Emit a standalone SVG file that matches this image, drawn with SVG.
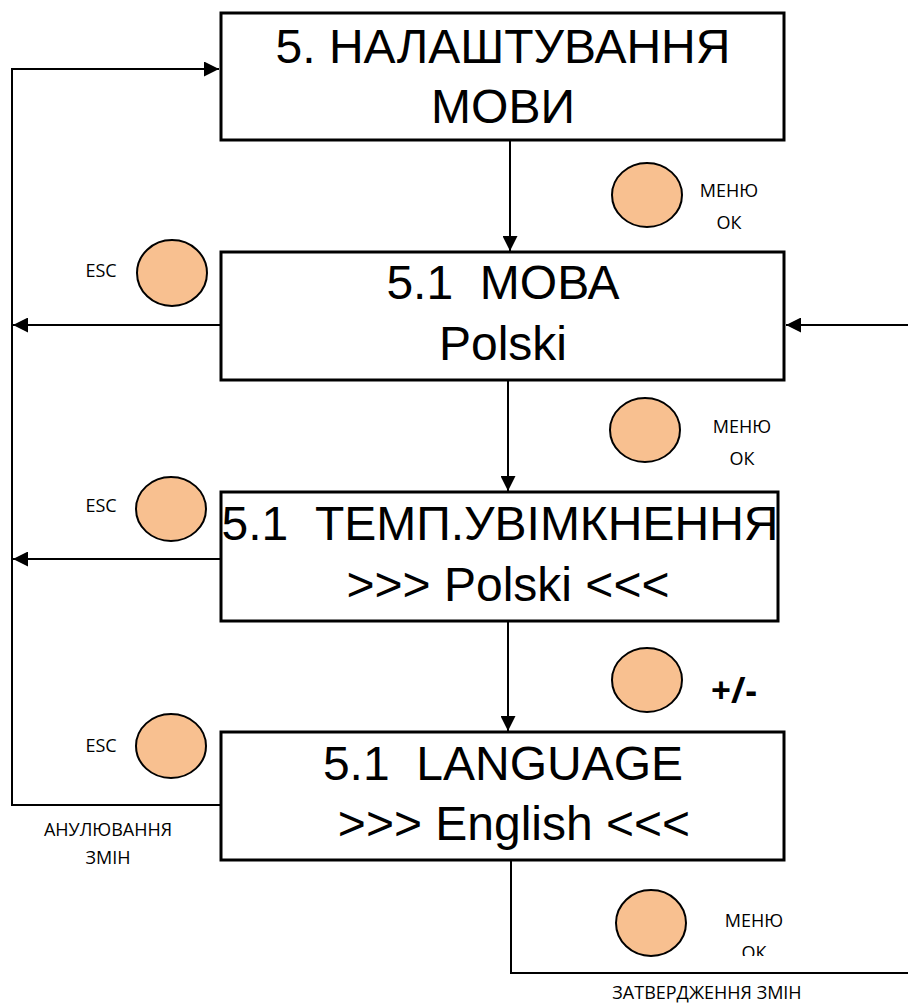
<svg xmlns="http://www.w3.org/2000/svg" width="908" height="1005" viewBox="0 0 908 1005">
  <style>
    .box { fill: #fff; stroke: #000; stroke-width: 3; }
    .big { font-family: "Liberation Sans", Arial, sans-serif; font-size: 48px; fill: #000; text-anchor: middle; }
    .btn { fill: #f8c090; stroke: #000; stroke-width: 2; }
    .lbl { font-family: "Open Sans", "Noto Sans", sans-serif; font-size: 18px; fill: #000; text-anchor: middle; }
    .pm { font-family: "Open Sans", "Noto Sans", sans-serif; font-size: 35px; font-weight: bold; fill: #000; }
    .wire { fill: none; stroke: #000; stroke-width: 2; }
  </style>
  <defs>
    <marker id="arrow" viewBox="0 0 10 10" refX="10" refY="5" markerWidth="7.5" markerHeight="7.5" markerUnits="strokeWidth" orient="auto">
      <path d="M0,0 L10,5 L0,10 Z" fill="#000"/>
    </marker>
    <clipPath id="clipOk"><rect x="680" y="900" width="140" height="56"/></clipPath>
  </defs>

  <g id="connectors">
    <!-- cancel path on the left back to the top menu -->
    <polyline class="wire" points="221,805 12,805 12,69 219,69" marker-end="url(#arrow)"/>
    <line class="wire" x1="221" y1="325" x2="13" y2="325" marker-end="url(#arrow)"/>
    <line class="wire" x1="221" y1="559" x2="13" y2="559" marker-end="url(#arrow)"/>
    <!-- entry from the right -->
    <line class="wire" x1="908" y1="325" x2="786" y2="325" marker-end="url(#arrow)"/>
    <!-- vertical flow -->
    <line class="wire" x1="510" y1="140" x2="510" y2="251" marker-end="url(#arrow)"/>
    <line class="wire" x1="508" y1="380" x2="508" y2="491" marker-end="url(#arrow)"/>
    <line class="wire" x1="508" y1="621" x2="508" y2="731" marker-end="url(#arrow)"/>
    <!-- confirm path -->
    <polyline class="wire" points="511,861 511,973 908,973"/>
  </g>

  <g id="node-lang-settings">
    <rect class="box" x="221" y="13" width="563" height="127"/>
    <text class="big" x="503" y="63">5. НАЛАШТУВАННЯ</text>
    <text class="big" x="503" y="123">МОВИ</text>
  </g>

  <g id="node-lang">
    <rect class="box" x="221" y="252" width="563" height="128"/>
    <text class="big" x="503" y="299" xml:space="preserve">5.1  МОВА</text>
    <text class="big" x="503" y="360">Polski</text>
  </g>

  <g id="node-temp">
    <rect class="box" x="221" y="492" width="557" height="129"/>
    <text class="big" x="500" y="540" xml:space="preserve">5.1  ТЕМП.УВІМКНЕННЯ</text>
    <text class="big" x="508" y="601">&gt;&gt;&gt; Polski &lt;&lt;&lt;</text>
  </g>

  <g id="node-language">
    <rect class="box" x="221" y="732" width="563" height="128"/>
    <text class="big" x="503" y="780" xml:space="preserve">5.1  LANGUAGE</text>
    <text class="big" x="514" y="840">&gt;&gt;&gt; English &lt;&lt;&lt;</text>
  </g>

  <g id="btn-menu-1">
    <ellipse class="btn" cx="647" cy="195" rx="35" ry="32"/>
    <text class="lbl" x="729" y="197">МЕНЮ</text>
    <text class="lbl" x="729" y="229">ОК</text>
  </g>

  <g id="btn-menu-2">
    <ellipse class="btn" cx="645" cy="430" rx="35" ry="32"/>
    <text class="lbl" x="742" y="433">МЕНЮ</text>
    <text class="lbl" x="742" y="465">ОК</text>
  </g>

  <g id="btn-plusminus">
    <ellipse class="btn" cx="647" cy="680" rx="35" ry="32"/>
    <text class="pm" x="711" y="703">+/-</text>
  </g>

  <g id="btn-menu-3">
    <ellipse class="btn" cx="651" cy="923" rx="35" ry="33"/>
    <text class="lbl" x="754" y="927">МЕНЮ</text>
    <text class="lbl" x="754" y="959" clip-path="url(#clipOk)">ОК</text>
  </g>

  <g id="btn-esc-1">
    <ellipse class="btn" cx="172" cy="273" rx="35" ry="33"/>
    <text class="lbl" x="101" y="277">ESC</text>
  </g>

  <g id="btn-esc-2">
    <ellipse class="btn" cx="171" cy="509" rx="35" ry="32"/>
    <text class="lbl" x="101" y="512">ESC</text>
  </g>

  <g id="btn-esc-3">
    <ellipse class="btn" cx="171" cy="746" rx="35" ry="32"/>
    <text class="lbl" x="101" y="752">ESC</text>
  </g>

  <g id="captions">
    <text class="lbl" x="108" y="836">АНУЛЮВАННЯ</text>
    <text class="lbl" x="108" y="864">ЗМІН</text>
    <text class="lbl" x="707" y="999">ЗАТВЕРДЖЕННЯ ЗМІН</text>
  </g>
</svg>
